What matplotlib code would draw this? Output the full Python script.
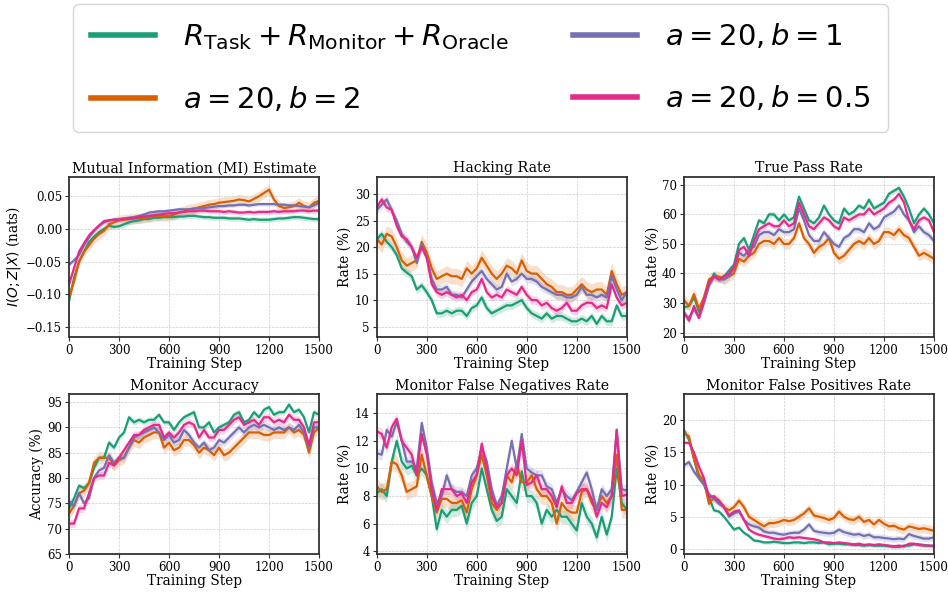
import numpy as np
import matplotlib
matplotlib.use("Agg")
import matplotlib.pyplot as plt
from matplotlib.lines import Line2D

plt.rcParams["font.family"] = "DejaVu Serif"
plt.rcParams["mathtext.fontset"] = "dejavusans"

STEPS = np.arange(0, 1501, 30)

LABELS = [
    r"$R_{\mathrm{Task}} + R_{\mathrm{Monitor}} + R_{\mathrm{Oracle}}$",
    r"$a = 20, b = 2$",
    r"$a = 20, b = 1$",
    r"$a = 20, b = 0.5$",
]
COLORS = ["#1b9e77", "#d95f02", "#7570b3", "#e7298a"]

# --- Mutual information ---
MI_GREEN = [-0.11, -0.075, -0.05, -0.035, -0.02, -0.012, -0.005, 0.0, 0.005, 0.003,
            0.004, 0.007, 0.01, 0.012, 0.013, 0.015, 0.015, 0.017, 0.017, 0.018,
            0.018, 0.018, 0.019, 0.019, 0.02, 0.02, 0.019, 0.018, 0.018, 0.017,
            0.017, 0.017, 0.016, 0.016, 0.016, 0.015, 0.014, 0.015, 0.014, 0.014,
            0.014, 0.015, 0.016, 0.016, 0.017, 0.018, 0.018, 0.017, 0.016, 0.015, 0.015]
MI_ORANGE = [-0.105, -0.08, -0.05, -0.035, -0.025, -0.015, -0.008, -0.003, 0.007, 0.01,
             0.013, 0.014, 0.015, 0.016, 0.016, 0.017, 0.018, 0.02, 0.02, 0.02,
             0.02, 0.022, 0.025, 0.027, 0.03, 0.031, 0.033, 0.035, 0.037, 0.038,
             0.04, 0.041, 0.042, 0.043, 0.045, 0.044, 0.042, 0.046, 0.05, 0.055,
             0.06, 0.045, 0.035, 0.032, 0.033, 0.035, 0.04, 0.035, 0.033, 0.04, 0.043]
MI_PURPLE = [-0.055, -0.048, -0.04, -0.025, -0.013, -0.003, 0.005, 0.01, 0.013, 0.014,
             0.015, 0.016, 0.017, 0.018, 0.02, 0.022, 0.025, 0.026, 0.027, 0.027,
             0.028, 0.029, 0.03, 0.03, 0.03, 0.031, 0.032, 0.032, 0.033, 0.034,
             0.035, 0.035, 0.036, 0.036, 0.037, 0.037, 0.036, 0.037, 0.038, 0.038,
             0.038, 0.038, 0.037, 0.037, 0.036, 0.036, 0.035, 0.034, 0.033, 0.036, 0.04]
MI_PINK = [-0.085, -0.06, -0.035, -0.022, -0.01, -0.002, 0.005, 0.012, 0.013, 0.014,
           0.014, 0.015, 0.016, 0.017, 0.018, 0.019, 0.02, 0.021, 0.022, 0.023,
           0.024, 0.024, 0.025, 0.026, 0.027, 0.027, 0.028, 0.028, 0.027, 0.027,
           0.027, 0.026, 0.027, 0.026, 0.025, 0.025, 0.026, 0.025, 0.026, 0.026,
           0.026, 0.027, 0.026, 0.027, 0.027, 0.027, 0.028, 0.028, 0.027, 0.028, 0.028]
MI_BAND = [0.004, 0.008, 0.003, 0.004]

# --- Hacking rate ---
HACK_GREEN = [21.4, 22.5, 21, 20, 18.5, 16, 15.2, 14.5, 12, 12.8,
              11.5, 10, 7.5, 7.5, 8, 7.5, 8, 8, 7, 8.5,
              9, 10.5, 8.5, 7.5, 8, 8.5, 9, 9, 9.5, 10,
              8.5, 7.5, 7, 6.5, 7.5, 6.5, 7, 7, 6.5, 6,
              6, 6.5, 6, 7, 5.5, 7, 6, 6, 9, 7, 7]
HACK_ORANGE = [21.5, 20.5, 22.5, 22, 20, 17.5, 16.5, 17, 17.5, 21,
               19, 16, 14, 14.5, 15, 14.5, 14.5, 14, 16, 15,
               16, 18, 16.5, 15, 14, 15, 16.5, 16, 15, 17.5,
               15.5, 15, 15, 14, 13, 12.5, 11.5, 11.5, 11, 11,
               12, 13, 12, 11.5, 12, 12, 11, 15.5, 13, 11, 11.5]
HACK_PURPLE = [27, 28, 29, 27, 25, 22.5, 21, 20, 17, 20.5,
               18, 14, 12, 12, 12.5, 11, 11, 10.5, 12, 13.5,
               14.5, 15.5, 14, 13, 12, 12.5, 15, 13.5, 14, 15,
               14, 14, 13.5, 12.5, 12, 11.5, 11, 11, 10.5, 10.5,
               11, 12.5, 11, 11, 10.5, 11, 10.5, 14.5, 12, 10, 11.5]
HACK_PINK = [27.5, 29, 27.5, 27, 24, 22, 21.5, 20, 18, 20,
             18, 13, 11.5, 11, 11.5, 11, 10.5, 11, 10, 11.5,
             12, 14, 11.5, 10.5, 11, 10.5, 12, 11.5, 11, 12.5,
             11, 10, 10, 9, 9.5, 8.5, 8, 8.5, 9.5, 8,
             8, 9, 9.5, 9.5, 8.5, 9, 8.5, 13, 10.5, 9, 9.5]
HACK_BAND = [0.8, 1.5, 0.8, 0.8]

# --- True pass rate ---
PASS_GREEN = [28.5, 29, 32, 27, 31, 36, 40, 38, 39, 41,
              43, 50, 52, 48, 53, 58, 57, 60, 60, 58,
              60, 58, 59, 66, 62, 58, 57, 59, 63, 60,
              58, 57, 62, 60, 61, 63, 62, 65, 62, 63,
              64, 67, 68, 69, 66, 62, 57, 60, 62, 60, 57]
PASS_ORANGE = [31, 29, 33, 28, 32, 38, 39, 39, 38, 39,
               40, 45, 44, 46, 47, 50, 51, 51, 50, 52,
               50, 50, 52, 57, 52, 50, 47, 49, 50, 52,
               47, 45, 46, 48, 50, 51, 50, 52, 50, 51,
               54, 54, 53, 55, 53, 52, 49, 46, 47, 46, 45]
PASS_PURPLE = [26, 25, 28, 25, 30, 36, 39, 38, 38, 39,
               42, 47, 46, 48, 49, 53, 54, 54, 53, 55,
               54, 54, 55, 62, 58, 53, 51, 51, 54, 52,
               50, 49, 52, 53, 55, 55, 54, 57, 55, 56,
               59, 60, 61, 63, 60, 58, 54, 56, 54, 53, 51]
PASS_PINK = [27, 24, 29, 25, 31, 37, 39, 38, 39, 40,
             42, 48, 49, 46, 51, 55, 56, 57, 56, 56,
             58, 56, 57, 64, 60, 56, 55, 57, 59, 58,
             56, 55, 59, 58, 59, 60, 60, 62, 60, 61,
             62, 64, 65, 67, 64, 58, 55, 58, 59, 58, 54]
PASS_BAND = [1.0, 1.8, 1.2, 1.0]

# --- Monitor accuracy ---
ACC_GREEN = [74, 76, 78.5, 78, 79, 82, 84, 84, 87, 86,
             88, 89, 92, 91, 91.5, 91, 91.5, 91.5, 92.5, 91,
             91, 89.5, 91, 92, 92.5, 93, 90, 90, 91, 89,
             90, 90.5, 91, 92.5, 93, 91, 91.5, 93, 92, 93.5,
             94, 92.5, 93, 93, 94.5, 93, 93.5, 92, 89, 93, 92.5]
ACC_ORANGE = [73, 74.5, 77, 77.5, 79, 83, 84, 84, 84, 82.5,
              83.5, 84, 86, 87.5, 87, 88, 88.5, 89, 89, 86,
              87, 85.5, 86, 87.5, 87.5, 86.5, 85, 86, 85.5, 84.5,
              86, 84.5, 85, 86, 87, 88, 89, 89, 89, 88.5,
              88.5, 89, 89, 89, 90, 89, 89.5, 88.5, 85, 89, 90]
ACC_PURPLE = [75.5, 74.5, 77, 75, 76, 80, 81.5, 82, 84.5, 83,
              84, 84, 86, 88, 88.5, 89, 89.5, 90, 89, 87.5,
              88.5, 87, 87.5, 89.5, 88.5, 87, 86, 87, 85.5, 86,
              87.5, 87, 88, 89, 90, 89, 90, 90.5, 90, 90.5,
              90, 89.5, 90, 89.5, 90, 89.5, 90.5, 89, 86, 90, 90]
ACC_PINK = [71, 71, 74, 74, 77, 80, 80.5, 80.5, 83, 82.5,
            84, 85.5, 87, 88.5, 88.5, 89.5, 90, 90.5, 90.5, 88,
            89, 88, 89, 90.5, 91, 90.5, 88, 89.5, 88, 88,
            89.5, 89.5, 90.5, 91.5, 92, 90.5, 91, 91.5, 90.5, 92,
            92, 91, 91.5, 91, 92.5, 91.5, 91.5, 90, 86.5, 91, 91]
ACC_BAND = [0.6, 1.2, 0.8, 0.8]

# --- Monitor false negatives ---
FN_GREEN = [8.2, 8.5, 8, 10.5, 12, 10.5, 10, 10.2, 9.5, 10,
            9.5, 8, 5.6, 7, 6.5, 7, 7, 7.3, 6, 7.5,
            8, 10, 8.5, 7, 6.2, 6.5, 8.5, 8, 7.5, 9.8,
            8, 8, 7.5, 6, 7, 6.5, 7, 6.5, 6.5, 6,
            5.5, 7.5, 6.5, 6, 5, 6.5, 5.2, 6.5, 10, 7.5, 7]
FN_ORANGE = [8.7, 8.3, 8.5, 10.5, 10.3, 9.5, 8.3, 8.5, 8.7, 11,
             9.5, 8, 6.8, 7.8, 7.8, 7.5, 7.5, 7.7, 6.8, 8.5,
             9.5, 11, 9.5, 7.5, 7, 7.5, 9.5, 9, 10.3, 9,
             9, 9.5, 8.5, 8, 8, 7.5, 6, 7.5, 7, 6.8,
             6.8, 8.3, 8.5, 7.5, 7, 8, 7.5, 8, 11, 7, 7]
FN_PURPLE = [11.1, 11, 12.8, 12.3, 13.4, 12, 10.5, 10.5, 10, 13.3,
             11.5, 9, 7.5, 8, 9.5, 8.5, 8.3, 8.3, 8, 9.5,
             10, 11.5, 10.5, 8.5, 7.3, 8, 10, 12, 10, 12.5,
             10, 9.7, 9.5, 9.5, 8.7, 8.5, 7.5, 8.5, 8, 7.7,
             8.3, 9, 9.7, 8.5, 7, 8.5, 8, 8.5, 12.8, 8.5, 8.4]
FN_PINK = [12.7, 12.5, 11.5, 13, 13.6, 12, 11.5, 11, 9.5, 12.5,
           11, 8.5, 7, 8.5, 8.5, 8.5, 8, 8.2, 7.5, 9,
           9.5, 11.8, 10, 8, 7.2, 7.5, 9.5, 10, 9.5, 12,
           8.8, 9, 9.5, 8.5, 8.5, 8, 7.2, 8.7, 7.5, 7.5,
           8.2, 8.5, 8.5, 7.8, 6.5, 7.5, 7.2, 8, 12.8, 8, 8.1]
FN_BAND = [0.5, 0.6, 0.4, 0.4]

# --- Monitor false positives ---
FP_GREEN = [18.5, 17, 14, 11, 10, 8, 6, 5.8, 5, 4,
            3, 3.3, 2.5, 2, 1.3, 1.2, 1, 1, 1.1, 1,
            0.9, 0.9, 1, 1, 0.9, 1, 1, 0.9, 1, 0.7,
            0.8, 0.8, 0.7, 0.7, 0.6, 0.6, 0.5, 0.6, 0.5, 0.5,
            0.5, 0.4, 0.3, 0.3, 0.5, 0.5, 0.7, 0.7, 0.6, 0.5, 0.4]
FP_ORANGE = [18, 17.5, 14, 11.5, 10.5, 7, 8, 7.5, 6.5, 6,
             6.5, 7.5, 6.5, 5, 4.5, 4, 3.5, 4, 4, 4.2,
             4.5, 4.3, 4.5, 5, 5.5, 6.3, 5.2, 5, 4.8, 4.5,
             4.8, 5.8, 5, 4.6, 4.5, 5, 4.2, 4.5, 3.8, 4.5,
             3.9, 3.5, 3.6, 3.2, 3, 3.5, 3.3, 3.1, 3.2, 3, 2.8]
FP_PURPLE = [13, 13.5, 12, 11, 10, 8.5, 7.8, 7, 6.5, 5,
             5.5, 5.8, 4.5, 3.8, 3.5, 3.3, 2.7, 2.5, 2.5, 2.3,
             2.2, 2.4, 2.5, 2.5, 3, 3.8, 2.8, 2.6, 2.5, 2.4,
             2.5, 3, 2.6, 2.4, 2.2, 2.3, 2, 2.2, 1.8, 1.8,
             1.7, 1.6, 1.5, 1.6, 1.5, 2.3, 2, 1.8, 1.6, 1.6, 1.8]
FP_PINK = [16.5, 16.5, 15, 12.8, 11, 8, 8.2, 7.5, 6.5, 5.2,
           5.8, 6, 4.5, 3, 2.5, 2.2, 2, 1.8, 1.6, 1.5,
           1.6, 1.8, 1.7, 1.8, 1.7, 1.6, 1.5, 1.3, 1, 1,
           0.9, 1, 0.9, 0.8, 0.7, 0.8, 0.6, 0.7, 0.6, 0.7,
           0.6, 0.5, 0.4, 0.5, 0.4, 0.8, 0.8, 0.6, 0.5, 0.5, 0.5]
FP_BAND = [0.3, 0.7, 0.5, 0.3]


def draw_panel(ax, series, bands, title, ylabel, ylim, yticks):
    for values, band, color in zip(series, bands, COLORS):
        y = np.array(values)
        ax.fill_between(STEPS, y - band, y + band, color=color, alpha=0.2, linewidth=0)
        ax.plot(STEPS, y, color=color, linewidth=1.6)
    ax.set_title(title, fontsize=10.2, pad=3)
    ax.set_ylabel(ylabel, fontsize=9.8, labelpad=2)
    ax.set_xlabel("Training Step", fontsize=9.8, labelpad=0)
    ax.set_xlim(0, 1500)
    ax.set_xticks(range(0, 1501, 300))
    ax.set_ylim(*ylim)
    ax.set_yticks(yticks)
    ax.tick_params(labelsize=8.5, length=3, pad=2, color="#333333")
    ax.grid(True, linestyle="--", linewidth=0.5, color="#cccccc")
    for spine in ax.spines.values():
        spine.set_color("#333333")
        spine.set_linewidth(1.3)


fig = plt.figure(figsize=(9.48, 5.92), dpi=100)

lefts = [0.0728, 0.3974, 0.7215]
bottoms = [0.4313, 0.0642]
width, height = 0.2637, 0.2703

panels = [
    ([MI_GREEN, MI_ORANGE, MI_PURPLE, MI_PINK], MI_BAND,
     "Mutual Information (MI) Estimate", r"$I(O;Z|X)$ (nats)",
     (-0.165, 0.08), [-0.15, -0.10, -0.05, 0.00, 0.05]),
    ([HACK_GREEN, HACK_ORANGE, HACK_PURPLE, HACK_PINK], HACK_BAND,
     "Hacking Rate", "Rate (%)", (3.1, 33.3), [5, 10, 15, 20, 25, 30]),
    ([PASS_GREEN, PASS_ORANGE, PASS_PURPLE, PASS_PINK], PASS_BAND,
     "True Pass Rate", "Rate (%)", (18.6, 72.8), [20, 30, 40, 50, 60, 70]),
    ([ACC_GREEN, ACC_ORANGE, ACC_PURPLE, ACC_PINK], ACC_BAND,
     "Monitor Accuracy", "Accuracy (%)", (65, 96.6), [65, 70, 75, 80, 85, 90, 95]),
    ([FN_GREEN, FN_ORANGE, FN_PURPLE, FN_PINK], FN_BAND,
     "Monitor False Negatives Rate", "Rate (%)", (3.8, 15.4), [4, 6, 8, 10, 12, 14]),
    ([FP_GREEN, FP_ORANGE, FP_PURPLE, FP_PINK], FP_BAND,
     "Monitor False Positives Rate", "Rate (%)", (-0.8, 24.1), [0, 5, 10, 15, 20]),
]

for i, (series, bands, title, ylabel, ylim, yticks) in enumerate(panels):
    ax = fig.add_axes([lefts[i % 3], bottoms[i // 3], width, height])
    draw_panel(ax, series, bands, title, ylabel, ylim, yticks)

handles = [Line2D([0], [0], color=c, linewidth=4) for c in COLORS]
fig.legend(
    handles, LABELS,
    loc="upper center",
    bbox_to_anchor=(0.507, 1.0),
    borderaxespad=0.15,
    ncol=2,
    handlelength=2.2,
    handletextpad=0.95,
    columnspacing=2.2,
    labelspacing=1.12,
    borderpad=0.62,
    frameon=True,
    prop={"family": "DejaVu Sans", "size": 21},
)

fig.savefig("out.png", dpi=100)
